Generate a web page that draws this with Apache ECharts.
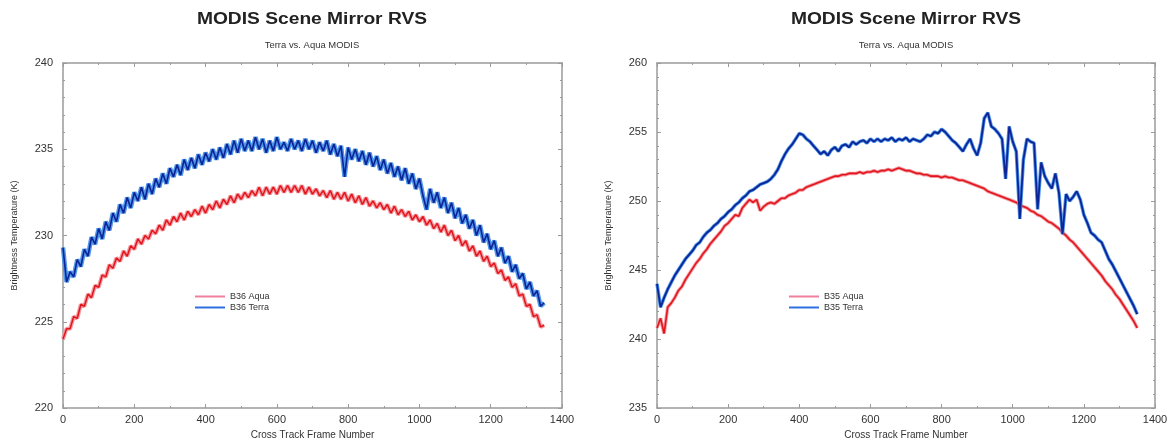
<!DOCTYPE html>
<html>
<head>
<meta charset="utf-8">
<script src="https://cdn.jsdelivr.net/npm/echarts@6/dist/echarts.min.js"></script>
<style>
html,body{margin:0;padding:0;background:#fff;}
#c{width:1174px;height:445px;}
</style>
</head>
<body>
<div id="c"></div>
<script>
// Cross track frame numbers (x values)
var frames = [0,10,20,30,40,50,60,70,80,90,100,110,120,130,140,150,160,170,180,190,200,210,220,230,240,250,260,270,280,290,300,310,320,330,340,350,360,370,380,390,400,410,420,430,440,450,460,470,480,490,500,510,520,530,540,550,560,570,580,590,600,610,620,630,640,650,660,670,680,690,700,710,720,730,740,750,760,770,780,790,800,810,820,830,840,850,860,870,880,890,900,910,920,930,940,950,960,970,980,990,1000,1010,1020,1030,1040,1050,1060,1070,1080,1090,1100,1110,1120,1130,1140,1150,1160,1170,1180,1190,1200,1210,1220,1230,1240,1250,1260,1270,1280,1290,1300,1310,1320,1330,1340,1350];

// Left panel: band 36
var b36Terra = [229.3,227.3,227.9,227.6,228.6,228.2,229.2,228.8,229.9,229.5,
230.4,229.8,230.8,230.3,231.3,230.8,231.8,231.3,232.2,231.6,
232.5,232.0,232.8,232.1,233.0,232.4,233.3,232.8,233.6,233.0,
233.9,233.4,234.1,233.5,234.4,233.8,234.5,233.9,234.7,234.1,
234.8,234.3,235.0,234.4,235.1,234.5,235.3,234.7,235.5,234.8,
235.6,234.9,235.5,234.9,235.7,235.0,235.6,234.8,235.5,234.9,
235.7,235.0,235.4,234.9,235.6,235.0,235.5,234.9,235.6,235.0,
235.5,234.8,235.4,234.9,235.5,234.7,235.3,234.6,235.2,233.4,
235.1,234.4,235.0,234.3,234.9,234.1,234.8,234.0,234.6,233.8,
234.4,233.6,234.2,233.4,234.0,233.2,233.9,233.0,233.6,232.7,
233.3,232.3,231.5,232.7,231.9,232.5,231.6,232.2,231.3,231.9,
231.0,231.6,230.7,231.2,230.4,230.9,230.0,230.6,229.6,230.1,
229.2,229.7,228.8,229.3,228.4,228.8,227.9,228.3,227.5,227.8,
226.9,227.3,226.5,226.8,225.9,226.1];
var b36Aqua = [224.0,224.6,224.6,225.3,225.2,226.0,225.9,226.6,226.4,227.1,
227.0,227.7,227.6,228.3,228.1,228.7,228.5,229.1,228.8,229.4,
229.2,229.8,229.5,230.0,229.8,230.3,230.1,230.6,230.3,230.9,
230.6,231.1,230.8,231.3,230.9,231.4,231.1,231.5,231.2,231.7,
231.3,231.8,231.5,232.0,231.6,232.1,231.8,232.3,231.9,232.4,
232.1,232.5,232.2,232.6,232.3,232.8,232.3,232.8,232.4,232.8,
232.4,232.9,232.5,232.9,232.5,232.9,232.5,232.9,232.4,232.8,
232.4,232.7,232.3,232.6,232.2,232.6,232.1,232.5,232.1,232.5,
232.0,232.4,231.9,232.3,231.8,232.2,231.7,232.0,231.6,231.9,
231.5,231.8,231.3,231.7,231.2,231.5,231.1,231.4,230.9,231.2,
230.8,231.1,230.6,230.9,230.4,230.7,230.2,230.6,230.0,230.3,
229.7,230.0,229.4,229.7,229.1,229.4,228.8,229.1,228.5,228.8,
228.2,228.4,227.8,228.0,227.4,227.6,227.0,227.2,226.5,226.6,
225.9,226.0,225.3,225.4,224.7,224.8];

// Right panel: band 35
var b35Terra = [244.0,242.3,243.0,243.6,244.1,244.6,245.0,245.4,245.8,246.1,
246.4,246.8,247.0,247.4,247.7,247.9,248.2,248.4,248.7,248.9,
249.2,249.4,249.7,249.9,250.2,250.4,250.7,250.8,251.0,251.2,
251.3,251.4,251.6,251.9,252.3,252.9,253.4,253.8,254.1,254.5,
254.9,254.8,254.5,254.3,254.0,253.7,253.4,253.6,253.3,253.7,
253.9,253.6,254.0,254.1,253.9,254.3,254.1,254.3,254.4,254.2,
254.5,254.3,254.5,254.3,254.5,254.4,254.6,254.3,254.5,254.4,
254.6,254.3,254.5,254.4,254.3,254.5,254.8,254.7,255.0,254.9,
255.2,255.0,254.7,254.4,254.2,253.9,253.6,254.1,254.5,253.8,
253.3,254.2,256.0,256.4,255.4,255.2,254.9,254.5,251.6,255.4,
254.3,253.6,248.7,253.0,254.5,254.3,254.2,249.4,252.8,251.8,
251.3,250.9,252.0,250.6,247.6,250.5,250.0,250.3,250.7,250.1,
249.0,248.4,247.7,247.5,247.2,247.0,246.4,245.8,245.4,244.9,
244.4,243.9,243.4,242.9,242.4,241.8];
var b35Aqua = [240.8,241.5,240.4,242.3,242.6,243.0,243.5,243.8,244.3,244.7,
245.1,245.5,245.8,246.2,246.5,246.9,247.2,247.5,247.8,248.2,
248.4,248.7,249.0,248.9,249.5,249.8,250.1,249.9,250.1,249.3,
249.6,249.8,249.9,249.8,250.0,250.2,250.2,250.4,250.5,250.6,
250.8,250.8,251.0,251.1,251.2,251.3,251.4,251.5,251.6,251.7,
251.8,251.8,251.9,251.9,252.0,252.0,252.0,252.1,252.0,252.1,
252.1,252.2,252.1,252.2,252.2,252.3,252.2,252.3,252.4,252.3,
252.2,252.2,252.1,252.0,252.0,251.9,251.9,251.8,251.8,251.8,
251.7,251.8,251.7,251.7,251.6,251.5,251.5,251.4,251.3,251.2,
251.1,251.0,250.9,250.7,250.6,250.5,250.4,250.3,250.2,250.1,
250.0,249.9,249.7,249.6,249.5,249.3,249.2,249.0,248.9,248.7,
248.5,248.4,248.2,248.0,247.7,247.5,247.2,247.0,246.7,246.4,
246.1,245.8,245.5,245.2,244.9,244.6,244.2,243.9,243.6,243.2,
242.9,242.5,242.1,241.7,241.3,240.8];

var titleText = 'MODIS Scene Mirror RVS';
var subText = 'Terra vs. Aqua MODIS';
var xName = 'Cross Track Frame Number';
var yName = 'Brightness Temperature (K)';
var leftNames = ['B36 Aqua', 'B36 Terra'];
var rightNames = ['B35 Aqua', 'B35 Terra'];

function pairs(vals) { return frames.map(function (f, i) { return [f, vals[i]]; }); }

var FONT = '"Liberation Sans", Arial, sans-serif';
var AX = '#9a9a9a';
var TXT = '#333';

function xAx(gi, pos, show) {
  return {
    type: 'value', gridIndex: gi, position: pos, min: 0, max: 1400, interval: 200,
    name: show ? xName : '', nameLocation: 'middle', nameGap: 22,
    nameTextStyle: { fontFamily: FONT, fontSize: 10, color: TXT },
    axisLine: { show: true, onZero: false, lineStyle: { color: AX, width: 1.5 } },
    axisTick: { show: true, inside: true, length: 4, lineStyle: { color: AX } },
    minorTick: { show: true, splitNumber: 2, length: 2, lineStyle: { color: AX } },
    axisLabel: { show: show, fontFamily: FONT, fontSize: 11, color: TXT, margin: 6,
      formatter: function (v) { return String(v); } },
    splitLine: { show: false }
  };
}
function yAx(gi, pos, show, mn, mx) {
  return {
    type: 'value', gridIndex: gi, position: pos, min: mn, max: mx, interval: 5,
    name: show ? yName : '', nameLocation: 'middle', nameGap: 44, nameRotate: 90,
    nameTextStyle: { fontFamily: FONT, fontSize: 9, color: TXT },
    axisLine: { show: true, onZero: false, lineStyle: { color: AX, width: 1.5 } },
    axisTick: { show: true, inside: true, length: 4, lineStyle: { color: AX } },
    minorTick: { show: true, splitNumber: 5, length: 2, lineStyle: { color: AX } },
    axisLabel: { show: show, fontFamily: FONT, fontSize: 11, color: TXT, margin: 10 },
    splitLine: { show: false }
  };
}

function lineSeries(name, data, xi, yi, color, width, z) {
  return {
    name: name, type: 'line', xAxisIndex: xi, yAxisIndex: yi, data: data,
    showSymbol: false, symbol: 'none', animation: false, z: z,
    lineStyle: { color: color, width: width }, itemStyle: { color: color }
  };
}

function titleEl(cx, cy, text, font, fill, sx) {
  return { type: 'text', x: cx, y: cy, scaleX: sx, originX: 0, originY: 0,
    style: { text: text, font: font, fill: fill, textAlign: 'center', textVerticalAlign: 'middle' } };
}

var chart = echarts.init(document.getElementById('c'), null, { renderer: 'canvas' });
chart.setOption({
  backgroundColor: '#fff',
  animation: false,
  grid: [
    { left: 63, top: 63, width: 499, height: 347 },
    { left: 657, top: 63, width: 498, height: 349 }
  ],
  xAxis: [xAx(0, 'bottom', true), xAx(0, 'top', false), xAx(1, 'bottom', true), xAx(1, 'top', false)],
  yAxis: [yAx(0, 'left', true, 220, 240), yAx(0, 'right', false, 220, 240), yAx(1, 'left', true, 235, 260), yAx(1, 'right', false, 235, 260)],
  legend: [
    { data: [{ name: leftNames[0], itemStyle: { color: '#f0809c' } }, { name: leftNames[1], itemStyle: { color: '#2f6fe0' } }],
      orient: 'vertical', left: 190, top: 287, itemWidth: 30, itemHeight: 2, itemGap: 2, icon: 'rect',
      textStyle: { fontFamily: FONT, fontSize: 9, color: TXT } },
    { data: [{ name: rightNames[0], itemStyle: { color: '#f0809c' } }, { name: rightNames[1], itemStyle: { color: '#2f6fe0' } }],
      orient: 'vertical', left: 784, top: 287, itemWidth: 30, itemHeight: 2, itemGap: 2, icon: 'rect',
      textStyle: { fontFamily: FONT, fontSize: 9, color: TXT } }
  ],
  graphic: [
    titleEl(312, 20, titleText, 'bold 16px ' + FONT, '#222', 1.2),
    titleEl(312, 46, subText, '9px ' + FONT, '#333', 1.05),
    titleEl(906, 20, titleText, 'bold 16px ' + FONT, '#222', 1.2),
    titleEl(906, 46, subText, '9px ' + FONT, '#333', 1.05)
  ],
  series: [
    lineSeries('haloA36', pairs(b36Aqua), 0, 0, '#f39aa0', 4, 1),
    lineSeries(leftNames[0], pairs(b36Aqua), 0, 0, '#e3141c', 1.5, 2),
    lineSeries('haloT36', pairs(b36Terra), 0, 0, '#4f95ea', 4.5, 3),
    lineSeries(leftNames[1], pairs(b36Terra), 0, 0, '#0b2496', 1.6, 4),
    lineSeries('haloA35', pairs(b35Aqua), 2, 2, '#f39aa0', 3.5, 1),
    lineSeries(rightNames[0], pairs(b35Aqua), 2, 2, '#e3141c', 1.6, 2),
    lineSeries('haloT35', pairs(b35Terra), 2, 2, '#4f95ea', 3.5, 3),
    lineSeries(rightNames[1], pairs(b35Terra), 2, 2, '#0b2496', 1.8, 4)
  ]
});
</script>
</body>
</html>
